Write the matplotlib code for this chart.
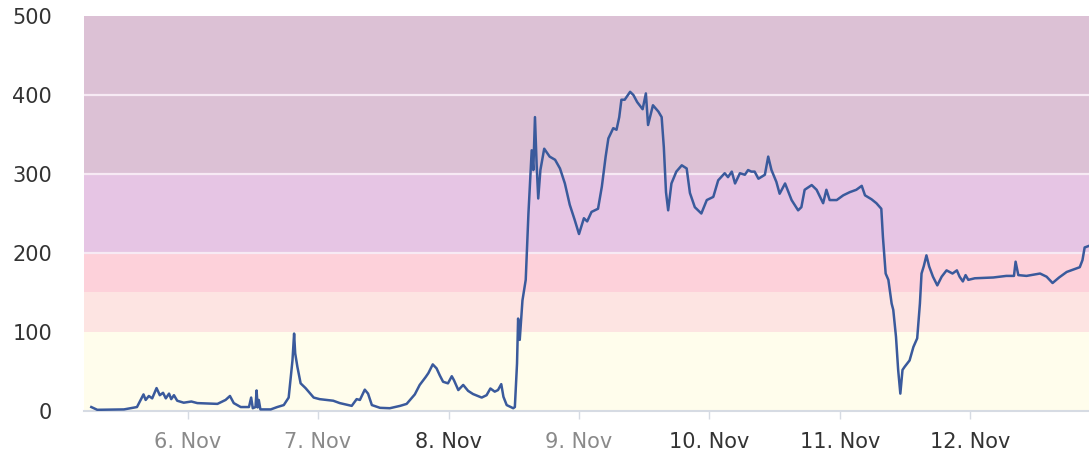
import numpy as np
import matplotlib
matplotlib.use('Agg')
import matplotlib.pyplot as plt
import matplotlib.dates as mdates

# hours since 5 Nov 00:00 and reading value
hours = [6.3, 7.4, 12.3, 14.7, 15.9, 16.3, 16.9, 17.5, 18.3, 18.9, 19.5, 20.0, 20.6, 21.0,
         21.5, 22.1, 23.3, 24.7, 25.8, 29.5, 31.0, 31.8, 32.5, 33.8, 35.3, 35.7, 36.0, 36.5,
         36.7, 36.9, 37.1, 37.4, 39.3, 40.5, 41.7, 42.6, 43.3, 43.6, 43.8, 44.2, 44.8, 45.7,
         47.2, 48.3, 49.6, 50.8, 52.0, 54.2, 55.1, 55.7, 56.6, 57.2, 57.9, 59.4, 61.2, 63.1,
         64.3, 65.8, 66.7, 67.8, 68.3, 69.1, 69.8, 70.4, 71.0, 71.9, 72.6, 73.0, 73.8, 74.7,
         75.6, 76.5, 78.1, 79.0, 79.7, 80.5, 81.1, 81.7, 82.1, 82.7, 83.9, 84.2,
         84.6, 84.8, 85.1, 85.6, 86.2, 86.7, 87.3, 87.6, 87.9, 88.2, 88.5, 88.9, 89.6, 90.6,
         91.6, 92.5, 93.4, 94.3, 95.2, 96.0, 96.9, 97.5, 98.3, 99.5, 100.2, 100.9, 101.4,
         102.3, 102.9, 103.4, 103.8, 104.4, 105.4, 106.0, 106.7, 107.7, 108.3, 108.7, 109.6,
         110.6, 111.2, 111.6, 112.0, 112.4, 113.0, 113.9, 114.9, 115.8, 116.4, 117.3,
         118.5, 119.5, 120.7, 121.6, 122.8, 123.4, 124.1, 124.7, 125.6, 126.5, 127.1, 127.7,
         128.3, 129.0, 130.2, 130.8, 131.4, 132.3, 132.9, 133.9, 135.1, 136.3, 136.9, 137.5,
         138.8, 139.7, 140.9, 141.5, 142.1, 143.4, 144.6, 145.8, 147.0, 148.0, 148.6, 149.8,
         150.7, 151.6, 151.9, 152.4, 152.9, 153.5, 153.8, 154.3, 154.7, 155.1, 155.5, 155.9,
         156.8, 157.5, 158.2, 158.7, 159.0, 159.4, 159.9, 160.4, 161.1, 161.9, 162.7, 163.6,
         164.7, 165.5, 166.0, 166.6, 167.1, 167.6, 168.8, 172.2, 174.6, 176.0, 176.3, 176.8,
         178.3, 180.8, 182.0, 183.1, 184.3, 185.7, 188.1, 188.6, 189.0, 189.8]
values = [5, 1.5, 2, 5, 21, 14, 19, 16, 29, 20, 23, 16, 22, 15,
          20, 13, 10.5, 12, 10, 9, 14, 19, 10, 5, 5, 17, 3.5, 5,
          26, 4.5, 14, 2, 2, 5, 7.5, 17, 64, 98, 73, 56, 35, 29,
          17, 15, 14, 13, 10, 6.5, 15, 14, 27, 22, 7.5, 4, 3.5, 6.5,
          9, 21, 33, 43, 48, 59, 54, 45, 37, 35, 44, 39, 26.5, 33,
          25.5, 21.5, 17, 20, 28.5, 24.5, 26.5, 34, 18, 7.5, 3.5, 5,
          60, 117, 90, 140, 166, 250, 330, 305, 372, 313, 269, 305, 332, 322,
          318, 307, 288, 261, 242, 224, 244, 240, 252, 256, 284, 322, 345,
          358, 356, 372, 394, 394, 404, 400, 391, 382, 402, 362, 387,
          379, 372, 334, 277, 254, 288, 303, 311, 307, 276, 258,
          250, 267, 271, 292, 301, 296, 303, 288, 301, 299, 305, 303,
          303, 294, 299, 322, 305, 290, 275, 288, 267, 254, 258, 280,
          286, 280, 263, 280, 267, 267, 273, 277, 280, 285, 273, 268,
          263, 256, 220, 174, 166, 136, 128, 94, 52, 22, 52, 56,
          64, 81, 92, 136, 174, 183, 197, 183, 170, 159, 170, 178,
          174, 178, 170, 164, 172, 166, 168, 169, 171, 171, 189, 172,
          171, 174, 170, 162, 169, 176, 182, 191, 207, 209]

bands = [(0, 100, '#fffdec'), (100, 150, '#fde4e2'), (150, 200, '#fdd1da'),
         (200, 300, '#e6c5e4'), (300, 500, '#dcc1d5')]
grid_levels = [200, 300, 400]
day_labels = ['6. Nov', '7. Nov', '8. Nov', '9. Nov', '10. Nov', '11. Nov', '12. Nov']
label_colors = ['#8a8a8a', '#8a8a8a', '#333333', '#8a8a8a', '#333333', '#333333', '#333333']

start = np.datetime64('2023-11-05T00:00')
times = start + (np.array(hours) * 60).astype('timedelta64[m]')
day_ticks = start + np.arange(1, 8).astype('timedelta64[D]')

fig = plt.figure(figsize=(10.89, 4.62), dpi=100)
ax = fig.add_axes([0.0771, 0.1104, 0.9229, 0.855])

for lo, hi, c in bands:
    ax.axhspan(lo, hi, color=c, lw=0, zorder=0)
for g in grid_levels:
    ax.axhline(g, color='#f7eaf4', lw=1.6, zorder=1)

ax.plot(times, values, color='#3a5a9c', lw=1.8, zorder=3)

ax.set_ylim(0, 500)
ax.set_xlim(start + np.timedelta64(297, 'm'), start + np.timedelta64(11388, 'm'))
ax.set_yticks([0, 100, 200, 300, 400, 500])
ax.tick_params(axis='y', length=0, pad=23, labelsize=15, labelcolor='#333333')
ax.set_xticks(day_ticks)
ax.set_xticklabels(day_labels)
ax.tick_params(axis='x', length=6, width=1, color='#d6dbe3', pad=9, labelsize=15)
for lbl, c in zip(ax.get_xticklabels(), label_colors):
    lbl.set_color(c)

for s in ['top', 'right', 'left']:
    ax.spines[s].set_visible(False)
ax.spines['bottom'].set_color('#d6dbe3')
ax.spines['bottom'].set_linewidth(1.5)

fig.savefig('out.png', dpi=100)
